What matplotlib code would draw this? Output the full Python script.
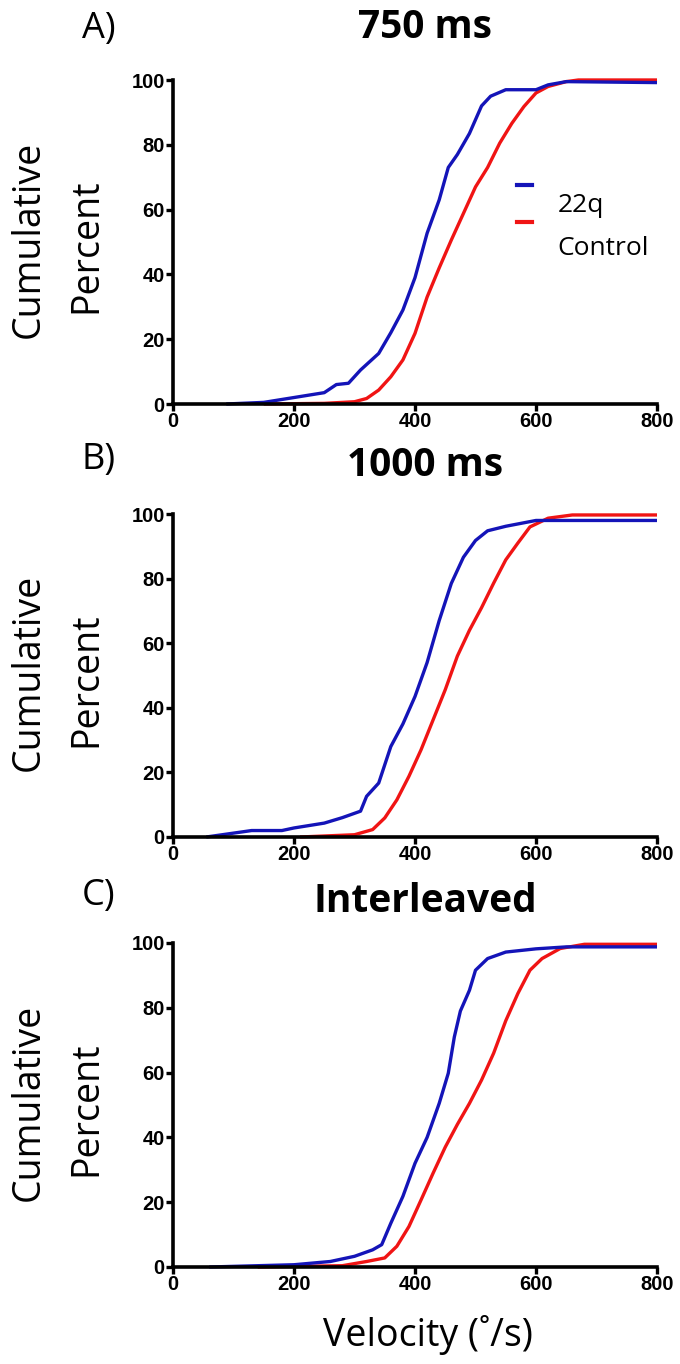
import matplotlib
matplotlib.use("Agg")
import matplotlib.pyplot as plt
from matplotlib.lines import Line2D

# panel titles / letters
PANEL_TITLES = ["750 ms", "1000 ms", "Interleaved"]
PANEL_LETTERS = ["A)", "B)", "C)"]

# cumulative curves: velocity (deg/s), cumulative percent
a_22q_x = [88, 150, 200, 250, 270, 290, 310, 340, 360, 380, 400, 420, 440, 455, 470, 490, 510, 525, 550, 600, 620, 650, 800]
a_22q_y = [0, 0.5, 2, 3.5, 6, 6.4, 10.5, 15.6, 22, 29, 39, 52.7, 63, 73, 77, 83.5, 92, 95, 97, 97, 98.5, 99.5, 99.2]
a_ctrl_x = [150, 250, 300, 320, 340, 360, 380, 400, 420, 440, 460, 480, 500, 520, 540, 560, 580, 600, 620, 650, 670, 800]
a_ctrl_y = [0, 0.2, 0.7, 1.7, 4.3, 8.4, 13.6, 21.8, 33, 42, 50.6, 58.8, 67, 73, 80.5, 86.6, 91.8, 96, 98, 99.5, 100, 100]

b_22q_x = [55, 100, 130, 180, 200, 250, 280, 310, 320, 340, 360, 380, 400, 420, 440, 460, 480, 500, 520, 550, 600, 800]
b_22q_y = [0, 1.2, 2, 2, 2.8, 4.3, 6, 8, 12.6, 16.7, 28, 35, 43.5, 54, 67, 78.5, 86.6, 91.8, 94.8, 96.2, 98, 98]
b_ctrl_x = [210, 300, 330, 350, 370, 390, 410, 430, 450, 470, 490, 510, 530, 550, 570, 590, 620, 660, 800]
b_ctrl_y = [0, 0.7, 2.3, 5.9, 11.5, 18.8, 27, 36.3, 45.6, 56, 64, 71, 78.6, 85.8, 91, 96, 98.7, 99.7, 99.7]

c_22q_x = [60, 200, 260, 300, 330, 345, 360, 380, 400, 420, 440, 455, 465, 475, 490, 500, 520, 550, 600, 650, 800]
c_22q_y = [0, 0.7, 1.7, 3.3, 5.3, 6.9, 13.5, 21.8, 32, 40, 50.5, 59.8, 71, 79, 85.4, 91.6, 95.2, 97.2, 98.2, 98.8, 98.8]
c_ctrl_x = [140, 280, 320, 350, 370, 390, 410, 430, 450, 470, 490, 510, 530, 550, 570, 590, 610, 640, 680, 800]
c_ctrl_y = [0, 0.4, 1.7, 2.8, 6.4, 12.5, 20.7, 29, 37, 44, 50.5, 57.7, 66, 76, 84.4, 91.6, 95.2, 98.3, 99.6, 99.6]

x_ticks = [0, 200, 400, 600, 800]
y_ticks = [0, 20, 40, 60, 80, 100]

BLUE = "#1414b8"
RED = "#f01414"
TICK_FONT = ["Liberation Sans", "DejaVu Sans"]
TEXT_FONT = ["Open Sans", "DejaVu Sans"]

panels = [
    (a_22q_x, a_22q_y, a_ctrl_x, a_ctrl_y),
    (b_22q_x, b_22q_y, b_ctrl_x, b_ctrl_y),
    (c_22q_x, c_22q_y, c_ctrl_x, c_ctrl_y),
]

W, H = 680, 1364
fig = plt.figure(figsize=(W / 100, H / 100), dpi=100)

def fx(px):
    return px / W

def fy(py):
    return 1 - py / H

# axes in pixels: left, right, top, bottom
boxes_px = [(173, 657, 80, 404), (173, 657, 514, 837), (173, 657, 943, 1267)]
title_y = [28, 466, 901]
letter_y = [29, 460, 896]

for i, data in enumerate(panels):
    l, r, t, b = boxes_px[i]
    ax = fig.add_axes([fx(l), fy(b), (r - l) / W, (b - t) / H])
    bx, by, rx, ry = data
    ax.plot(rx, ry, color=RED, lw=2.4, clip_on=False, solid_capstyle="butt")
    ax.plot(bx, by, color=BLUE, lw=2.4, clip_on=False, solid_capstyle="butt")

    ax.set_xlim(0, 800)
    ax.set_ylim(0, 100)
    ax.set_xticks(x_ticks)
    ax.set_yticks(y_ticks)
    for side in ["top", "right"]:
        ax.spines[side].set_visible(False)
    for side in ["left", "bottom"]:
        ax.spines[side].set_linewidth(2.6)
    ax.tick_params(direction="out", length=5, width=2.4, pad=1)
    for lab in ax.get_xticklabels() + ax.get_yticklabels():
        lab.set_family(TICK_FONT)
        lab.set_fontweight("bold")
        lab.set_fontsize(14.5)

    fig.text(fx(425), fy(title_y[i]), PANEL_TITLES[i], family=TEXT_FONT,
             fontweight="bold", fontsize=28, ha="center", va="center")
    fig.text(fx(99), fy(letter_y[i]), PANEL_LETTERS[i], family=TEXT_FONT,
             fontsize=26, ha="center", va="center")
    # two line y label
    ymid = fy((t + b) / 2 - 3)
    fig.text(fx(29), ymid, "Cumulative", family=TEXT_FONT, fontsize=27,
             rotation=90, ha="center", va="center")
    fig.text(fx(86), fy((t + b) / 2 + 4), "Percent", family=TEXT_FONT, fontsize=27,
             rotation=90, ha="center", va="center")

    if i == 0:
        ax.add_line(Line2D([0.711, 0.742], [0.676, 0.676], transform=ax.transAxes,
                           color=BLUE, lw=3))
        ax.add_line(Line2D([0.711, 0.742], [0.562, 0.562], transform=ax.transAxes,
                           color=RED, lw=3))
        ax.text(0.794, 0.614, "22q", transform=ax.transAxes, family=TEXT_FONT,
                fontsize=19, va="center")
        ax.text(0.794, 0.48, "Control", transform=ax.transAxes, family=TEXT_FONT,
                fontsize=19, va="center")
    if i == 2:
        fig.text(fx(428), fy(1335), "Velocity (\u02da/s)", family=TEXT_FONT,
                 fontsize=27, ha="center", va="center")

fig.savefig("out.png", dpi=100)
